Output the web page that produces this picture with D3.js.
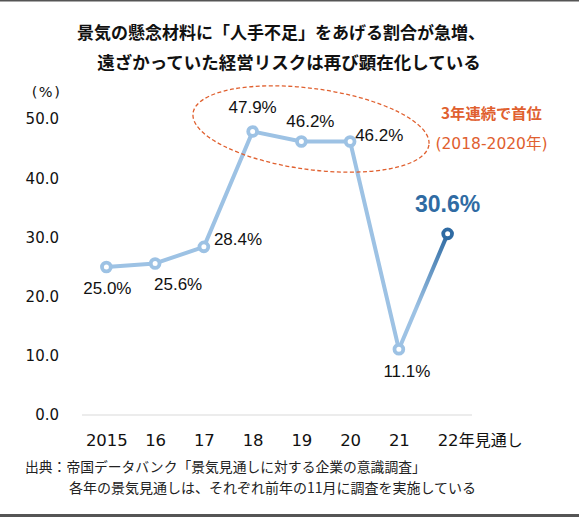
<!DOCTYPE html>
<html><head><meta charset="utf-8">
<script src="https://cdn.jsdelivr.net/npm/d3@7"></script>
<style>
html,body{margin:0;padding:0;background:#fff;}
svg{display:block;}
</style></head>
<body>
<svg id="chart" width="579" height="517"></svg>
<script>
// ---- data ----
const categories = ["2015","16","17","18","19","20","21","22"];
const values = [25.0, 25.6, 28.4, 47.9, 46.2, 46.2, 11.1, 30.6];
const valueLabels = ["25.0%","25.6%","28.4%","47.9%","46.2%","46.2%","11.1%","30.6%"];
const yTicks = [0, 10, 20, 30, 40, 50];
const titleLines = ["景気の懸念材料に「人手不足」をあげる割合が急増、","遠ざかっていた経営リスクは再び顕在化している"];
const lastLabelSuffix = "年見通し";
const noteLines = ["出典：帝国データバンク「景気見通しに対する企業の意識調査」","各年の景気見通しは、それぞれ前年の11月に調査を実施している"];
const annotationLines = ["3年連続で首位","(2018-2020年)"];

// ---- layout (label offsets relative to points) ----
const labelLayout = [
  {dx:1, dy:21, anchor:"middle"},
  {dx:23, dy:20, anchor:"middle"},
  {dx:10, dy:-8, anchor:"start"},
  {dx:0, dy:-25, anchor:"middle"},
  {dx:9, dy:-21, anchor:"middle"},
  {dx:5, dy:-7, anchor:"start"},
  {dx:8, dy:22, anchor:"middle"},
  {dx:0, dy:-30, anchor:"middle"}
];

const LIGHT = "#9dc2e4", DARK = "#2f6ba3", ORANGE = "#e0602f";
const LATIN = "'DejaVu Sans','Noto Sans CJK JP',sans-serif";
const JP = "'Noto Sans CJK JP',sans-serif";

const svg = d3.select("#chart");

// frame lines
svg.append("rect").attr("x",0).attr("y",0).attr("width",579).attr("height",1.5).attr("fill","#555");
svg.append("rect").attr("x",0).attr("y",514).attr("width",579).attr("height",3).attr("fill","#555");

const x = d3.scalePoint().domain(categories).range([82, 472]).padding(0.5);
const y = d3.scaleLinear().domain([0, 50]).range([415, 119]);

// title
svg.selectAll("text.title").data(titleLines).join("text")
  .attr("class","title")
  .attr("x",(d,i)=> i===0 ? 281 : 289)
  .attr("y",(d,i)=> 33 + i*30)
  .attr("dy","0.36em")
  .attr("text-anchor","middle")
  .attr("font-family",JP).attr("font-weight","bold")
  .attr("font-size",(d,i)=> i===0 ? 17 : 17.5)
  .attr("fill","#111")
  .text(d=>d);

// y axis
const yAxis = d3.axisLeft(y).tickValues(yTicks).tickFormat(d3.format(".1f")).tickSize(0).tickPadding(0);
const gy = svg.append("g").attr("transform","translate(59,0)").call(yAxis);
gy.select(".domain").remove();
gy.selectAll("text").attr("font-family",LATIN).attr("font-size",15).attr("fill","#111");

svg.append("text").attr("x",46.5).attr("y",92).attr("dy","0.36em")
  .attr("text-anchor","middle").attr("font-family",LATIN).attr("font-size",14.5)
  .attr("letter-spacing",1.5).attr("fill","#111").text("(%)");

// baseline
svg.append("line").attr("x1",82).attr("x2",472).attr("y1",y(0)).attr("y2",y(0))
  .attr("stroke","#d9d9d9").attr("stroke-width",1.2);

// x axis
const xAxis = d3.axisBottom(x).tickSize(0).tickPadding(0);
const gx = svg.append("g").attr("transform","translate(0,440)").call(xAxis);
gx.select(".domain").remove();
gx.selectAll("text").attr("font-family",LATIN).attr("font-size",16.5).attr("fill","#111")
  .attr("dy","0.36em").attr("y",0);
const lastTick = gx.selectAll(".tick").filter(d => d === categories[categories.length-1]).select("text");
lastTick.attr("text-anchor","start").attr("x",-10.5);
lastTick.append("tspan").attr("font-family",JP).attr("font-size",16).text(lastLabelSuffix);

// gradient for last segment
const n = categories.length;
const defs = svg.append("defs");
const grad = defs.append("linearGradient").attr("id","lastSeg").attr("gradientUnits","userSpaceOnUse")
  .attr("x1",x(categories[n-2])).attr("y1",y(values[n-2]))
  .attr("x2",x(categories[n-1])).attr("y2",y(values[n-1]));
grad.append("stop").attr("offset","0%").attr("stop-color",LIGHT);
grad.append("stop").attr("offset","35%").attr("stop-color",LIGHT);
grad.append("stop").attr("offset","100%").attr("stop-color",DARK);

const pts = categories.map((c,i)=>({c, v:values[i], i}));
const line = d3.line().x(d=>x(d.c)).y(d=>y(d.v));

svg.append("path").datum(pts.slice(0, n-1)).attr("d",line)
  .attr("fill","none").attr("stroke",LIGHT).attr("stroke-width",4).attr("stroke-linejoin","round");
svg.append("path").datum(pts.slice(n-2)).attr("d",line)
  .attr("fill","none").attr("stroke","url(#lastSeg)").attr("stroke-width",4).attr("stroke-linecap","round");

// ellipse annotation
svg.append("ellipse")
  .attr("cx",0).attr("cy",0).attr("rx",119).attr("ry",40.5)
  .attr("transform","translate(311,129) rotate(7.7)")
  .attr("fill","none").attr("stroke",ORANGE).attr("stroke-width",1.3).attr("stroke-dasharray","4,2.5");

// points
svg.selectAll("circle.pt").data(pts).join("circle")
  .attr("class","pt")
  .attr("cx",d=>x(d.c)).attr("cy",d=>y(d.v)).attr("r",4.4)
  .attr("fill","#fff")
  .attr("stroke",d=> d.i===n-1 ? DARK : LIGHT).attr("stroke-width",3.8);

// value labels
svg.selectAll("text.val").data(pts).join("text")
  .attr("class","val")
  .attr("x",d=>x(d.c)+labelLayout[d.i].dx)
  .attr("y",d=>y(d.v)+labelLayout[d.i].dy)
  .attr("dy","0.36em")
  .attr("text-anchor",d=>labelLayout[d.i].anchor)
  .attr("font-family","'Liberation Sans',Arial,sans-serif")
  .attr("font-weight",d=> d.i===n-1 ? "bold" : "normal")
  .attr("font-size",d=> d.i===n-1 ? 23 : 17)
  .attr("fill",d=> d.i===n-1 ? DARK : "#111")
  .text(d=>valueLabels[d.i]);

// annotation text
svg.append("text").attr("x",491.5).attr("y",113).attr("dy","0.36em").attr("text-anchor","middle")
  .attr("font-family",JP).attr("font-weight","bold").attr("font-size",15.3).attr("fill",ORANGE)
  .text(annotationLines[0]);
svg.append("text").attr("x",491.5).attr("y",143).attr("dy","0.36em").attr("text-anchor","middle")
  .attr("font-family",LATIN).attr("font-size",15.5).attr("fill",ORANGE)
  .text(annotationLines[1]);

// notes
svg.append("text").attr("x",25).attr("y",467).attr("dy","0.36em")
  .attr("font-family",JP).attr("font-size",13.8).attr("fill","#222").text(noteLines[0]);
svg.append("text").attr("x",69).attr("y",488).attr("dy","0.36em")
  .attr("font-family",JP).attr("font-size",14).attr("fill","#222").text(noteLines[1]);
</script>
</body></html>
